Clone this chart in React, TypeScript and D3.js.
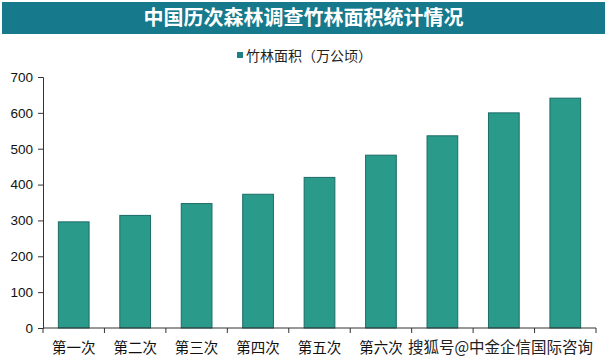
import { useEffect, useRef } from "react";
import * as d3 from "d3";

const title = "中国历次森林调查竹林面积统计情况";
const seriesName = "竹林面积（万公顷）";
const categories = ["第一次", "第二次", "第三次", "第四次", "第五次", "第六次", "第七次", "第八次", "第九次"];
const values = [296, 314, 347, 373, 420, 482, 536, 600, 641];
const yTicks = [0, 100, 200, 300, 400, 500, 600, 700];
// last three category labels are covered by the watermark in the source image
const shownLabels = 6;
const watermark = "搜狐号@中金企信国际咨询";

export default function App() {
  const ref = useRef<SVGSVGElement>(null);

  useEffect(() => {
    if (!ref.current) return;
    const W = 607, H = 364;
    const margin = { top: 77, right: 11, bottom: 36, left: 43 };

    const svg = d3.select(ref.current);
    svg.selectAll("*").remove();

    svg.append("rect").attr("width", W).attr("height", H).attr("fill", "#fff");

    // title bar
    svg.append("rect")
      .attr("x", 2).attr("y", 2).attr("width", W - 4).attr("height", 32)
      .attr("fill", "#16798c");
    svg.append("text")
      .attr("x", W / 2).attr("y", 25)
      .attr("text-anchor", "middle")
      .attr("fill", "#fff")
      .style("font-family", "'Noto Sans CJK SC', sans-serif")
      .style("font-weight", "700")
      .style("font-size", "20px")
      .text(title);

    // legend
    svg.append("rect")
      .attr("x", 237).attr("y", 52).attr("width", 6).attr("height", 6)
      .attr("fill", "#1e7f86");
    svg.append("text")
      .attr("x", 246).attr("y", 61)
      .attr("fill", "#222")
      .style("font-family", "'Noto Sans CJK SC', sans-serif")
      .style("font-size", "14px")
      .text(seriesName);

    const x = d3.scaleBand()
      .domain(categories)
      .range([margin.left, W - margin.right])
      .paddingInner(0.5)
      .paddingOuter(0.25);

    const y = d3.scaleLinear()
      .domain([0, 700])
      .range([H - margin.bottom, margin.top]);

    // bars
    svg.append("g")
      .selectAll("rect")
      .data(values)
      .enter()
      .append("rect")
      .attr("x", (d, i) => x(categories[i])!)
      .attr("y", d => y(d))
      .attr("width", x.bandwidth())
      .attr("height", d => y(0) - y(d))
      .attr("fill", "#2a9b8b")
      .attr("stroke", "#1d6b66")
      .attr("stroke-width", 1);

    // y axis
    const yAxis = svg.append("g")
      .attr("transform", `translate(${margin.left},0)`)
      .call(d3.axisLeft(y).tickValues(yTicks).tickSize(5).tickPadding(5));
    yAxis.select(".domain").attr("stroke", "#333");
    yAxis.selectAll(".tick line").attr("stroke", "#333");
    yAxis.selectAll(".tick text")
      .attr("fill", "#111")
      .style("font-family", "'Liberation Sans', Arial, sans-serif")
      .style("font-size", "13.5px");

    // x axis with ticks at band boundaries
    const step = x.step();
    const x0 = margin.left;
    const xAxis = svg.append("g").attr("transform", `translate(0,${y(0)})`);
    xAxis.append("line")
      .attr("x1", x0).attr("x2", W - margin.right)
      .attr("stroke", "#333");
    xAxis.selectAll("line.tk")
      .data(d3.range(categories.length + 1))
      .enter()
      .append("line")
      .attr("class", "tk")
      .attr("x1", i => x0 + i * step)
      .attr("x2", i => x0 + i * step)
      .attr("y1", 0).attr("y2", 5)
      .attr("stroke", "#333");
    xAxis.selectAll("text")
      .data(categories.slice(0, shownLabels))
      .enter()
      .append("text")
      .attr("x", d => x(d)! + x.bandwidth() / 2)
      .attr("y", 25)
      .attr("text-anchor", "middle")
      .attr("fill", "#111")
      .style("font-family", "'Noto Sans CJK SC', sans-serif")
      .style("font-size", "14.5px")
      .text(d => d);

    // watermark
    svg.append("text")
      .attr("x", 408).attr("y", y(0) + 25)
      .attr("textLength", 185)
      .attr("lengthAdjust", "spacingAndGlyphs")
      .attr("fill", "#222")
      .attr("stroke", "#fff")
      .attr("stroke-width", 2)
      .attr("paint-order", "stroke")
      .style("font-family", "'Noto Sans CJK SC', sans-serif")
      .style("font-size", "16px")
      .text(watermark);
  }, []);

  return (
    <svg
      ref={ref}
      width={607}
      height={364}
      style={{ position: "absolute", left: 0, top: 0 }}
    />
  );
}
